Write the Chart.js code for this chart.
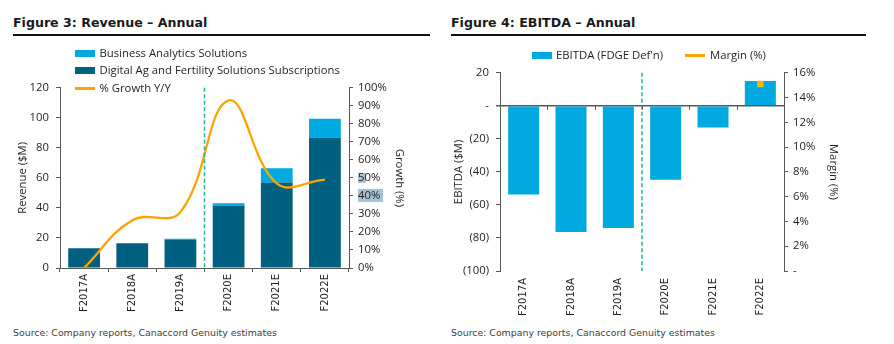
<!DOCTYPE html>
<html>
<head>
<meta charset="utf-8">
<script src="https://cdn.jsdelivr.net/npm/chart.js@4"></script>
<style>
  body { margin: 0; background: #fff; width: 894px; height: 344px; position: relative; overflow: hidden; font-family: 'DejaVu Sans', Verdana, sans-serif; }
  .title { position: absolute; top: 16px; font-weight: bold; font-size: 12.6px; color: #1a1a1a; line-height: 14px; white-space: nowrap; }
  .rule { position: absolute; top: 34px; height: 2px; background: #111; }
  .source { position: absolute; top: 327px; font-size: 9.4px; color: #404040; line-height: 12px; white-space: nowrap; }
  .lg { position: absolute; font-family: 'Open Sans', sans-serif; font-size: 11.3px; color: #1f1f1f; line-height: 14px; white-space: nowrap; }
  .sw { position: absolute; }
  canvas { position: absolute; }
</style>
</head>
<body>
<div class="title" style="left:13px">Figure 3: Revenue – Annual</div>
<div class="rule" style="left:13px;width:417px"></div>
<div class="title" style="left:451px">Figure 4: EBITDA – Annual</div>
<div class="rule" style="left:451px;width:415px"></div>

<canvas id="revChart" width="440" height="246" style="left:0;top:74px"></canvas>
<canvas id="ebitdaChart" width="440" height="261" style="left:447px;top:59px"></canvas>

<div class="source" style="left:13px">Source: Company reports, Canaccord Genuity estimates</div>
<div class="source" style="left:451px">Source: Company reports, Canaccord Genuity estimates</div>

<script>
// data
var categories = ['F2017A', 'F2018A', 'F2019A', 'F2020E', 'F2021E', 'F2022E'];
var digitalAg = [13.1, 16.4, 19.0, 41.5, 56.9, 86.9];
var businessAnalytics = [0, 0, 0.4, 1.6, 9.5, 12.4];
var growthPct = [0, 26.5, 31, 93, 47, 49];
var ebitda = [-53.7, -76.4, -74.0, -44.8, -13.2, 15.0];
var marginPct = [null, null, null, null, null, 15.1];

var C_LIGHT = '#00a9e0';
var C_DARK = '#00607f';
var C_ORANGE = '#ffa300';
var C_GOLD = '#f5b400';
var C_AXIS = '#595959';
var C_TEXT = '#1f1f1f';

var tickFont = { family: 'Open Sans', size: 11.3 };
var catFont = { family: 'DejaVu Sans', size: 10 };

Chart.defaults.color = C_TEXT;
Chart.defaults.animation = false;

// dashed line between actuals and estimates
var splitLine = {
  id: 'splitLine',
  afterDatasetsDraw(chart) {
    var ctx = chart.ctx, area = chart.chartArea, x = chart.scales.x;
    var xp = (x.getPixelForValue(2) + x.getPixelForValue(3)) / 2;
    ctx.save();
    ctx.strokeStyle = '#1fb39a';
    ctx.lineWidth = 1.5;
    ctx.setLineDash([4, 2.5]);
    ctx.beginPath();
    ctx.moveTo(xp, area.top);
    ctx.lineTo(xp, area.bottom);
    ctx.stroke();
    ctx.restore();
  }
};

// the two shaded labels on the growth axis
var tickShade = {
  id: 'tickShade',
  beforeDraw(chart) {
    var ctx = chart.ctx, s = chart.scales.y1;
    var x0 = s.left + 9;
    ctx.save();
    ctx.fillStyle = '#a7c2d6';
    var y50 = s.getPixelForValue(50);
    ctx.fillRect(x0, y50 - 5, 8, 10);
    var y40 = s.getPixelForValue(40);
    ctx.fillRect(x0, y40 - 7, 25, 13);
    ctx.restore();
  }
};

// small ticks hanging from the zero line
var zeroTicks = {
  id: 'zeroTicks',
  afterDraw(chart) {
    var ctx = chart.ctx, x = chart.scales.x, y = chart.scales.y;
    var y0 = y.getPixelForValue(0);
    ctx.save();
    ctx.strokeStyle = C_AXIS;
    ctx.lineWidth = 1;
    ctx.beginPath();
    for (var i = 1; i < categories.length; i++) {
      var xp = Math.round((x.getPixelForValue(i - 1) + x.getPixelForValue(i)) / 2) + 0.5;
      ctx.moveTo(xp, y0);
      ctx.lineTo(xp, y0 + 4);
    }
    ctx.stroke();
    ctx.restore();
  }
};

new Chart(document.getElementById('revChart'), {
  type: 'bar',
  data: {
    labels: categories,
    datasets: [
      { label: 'Digital Ag and Fertility Solutions Subscriptions', data: digitalAg, backgroundColor: C_DARK,
        barPercentage: 0.66, categoryPercentage: 1, order: 1 },
      { label: 'Business Analytics Solutions', data: businessAnalytics, backgroundColor: C_LIGHT,
        barPercentage: 0.66, categoryPercentage: 1, order: 1 },
      { type: 'line', label: '% Growth Y/Y', data: growthPct, yAxisID: 'y1', borderColor: C_ORANGE,
        borderWidth: 2.3, pointRadius: 0, tension: 0.4, fill: false, order: 0 }
    ]
  },
  options: {
    responsive: false,
    layout: { padding: { left: 12, right: 30, top: 3, bottom: 0 } },
    plugins: { legend: { display: false }, tooltip: { enabled: false } },
    scales: {
      x: {
        stacked: true,
        grid: { drawOnChartArea: false, tickLength: 4, color: C_AXIS },
        border: { color: C_AXIS },
        ticks: { font: catFont, maxRotation: 90, minRotation: 90, padding: 2, autoSkip: false },
        afterFit: function (s) { s.height = 52; }
      },
      y: {
        stacked: true, min: 0, max: 120,
        ticks: { stepSize: 20, font: tickFont, padding: 7 },
        grid: { drawOnChartArea: false, tickLength: 4, color: C_AXIS },
        border: { color: C_AXIS },
        title: { display: true, text: 'Revenue ($M)', font: tickFont },
        afterFit: function (s) { s.width = 48; }
      },
      y1: {
        position: 'right', min: 0, max: 100,
        ticks: { stepSize: 10, font: tickFont, padding: 5, callback: function (v) { return v + '%'; } },
        grid: { drawOnChartArea: false, tickLength: 4, color: C_AXIS },
        border: { color: C_AXIS },
        title: { display: true, text: 'Growth (%)', font: tickFont },
        afterFit: function (s) { s.width = 61; }
      }
    }
  },
  plugins: [splitLine, tickShade]
});

new Chart(document.getElementById('ebitdaChart'), {
  type: 'bar',
  data: {
    labels: categories,
    datasets: [
      { label: "EBITDA (FDGE Def'n)", data: ebitda, backgroundColor: C_LIGHT,
        barPercentage: 0.655, categoryPercentage: 1, order: 1 },
      { type: 'line', label: 'Margin (%)', data: marginPct, yAxisID: 'y1', borderColor: C_ORANGE,
        backgroundColor: C_GOLD, pointStyle: 'rect', pointRadius: 4.6, pointBorderWidth: 0,
        showLine: false, order: 0 }
    ]
  },
  options: {
    responsive: false,
    layout: { padding: { left: 1, right: 43, top: 3, bottom: 0 } },
    plugins: { legend: { display: false }, tooltip: { enabled: false } },
    scales: {
      x: {
        grid: { display: false, drawTicks: false },
        border: { display: false },
        ticks: { font: catFont, maxRotation: 90, minRotation: 90, padding: 7, autoSkip: false },
        afterFit: function (s) { s.height = 49; }
      },
      y: {
        min: -100, max: 20,
        ticks: { stepSize: 20, font: tickFont, padding: 7,
          callback: function (v) { return v === 0 ? '-' : (v < 0 ? '(' + (-v) + ')' : v); } },
        grid: {
          tickLength: 4, tickColor: C_AXIS,
          color: function (c) { return c.tick && c.tick.value === 0 ? C_AXIS : 'transparent'; },
          lineWidth: function (c) { return c.tick && c.tick.value === 0 ? 1.5 : 1; }
        },
        border: { color: C_AXIS },
        title: { display: true, text: 'EBITDA ($M)', font: tickFont },
        afterFit: function (s) { s.width = 52; }
      },
      y1: {
        position: 'right', min: 0, max: 16,
        ticks: { stepSize: 2, font: tickFont, padding: 5,
          callback: function (v) { return v === 0 ? '-' : v + '%'; } },
        grid: { drawOnChartArea: false, tickLength: 4, color: C_AXIS },
        border: { color: C_AXIS },
        title: { display: true, text: 'Margin (%)', font: tickFont },
        afterFit: function (s) { s.width = 60; }
      }
    }
  },
  plugins: [splitLine, zeroTicks]
});

// html legends
function addLegend(items) {
  items.forEach(function (it) {
    var sw = document.createElement('div');
    sw.className = 'sw';
    sw.style.left = it.sx + 'px';
    sw.style.width = '20px';
    if (it.line) {
      sw.style.top = (it.cy - 1) + 'px';
      sw.style.height = '2.5px';
    } else {
      sw.style.top = (it.cy - 3.5) + 'px';
      sw.style.height = '7px';
    }
    sw.style.background = it.color;
    document.body.appendChild(sw);
    var t = document.createElement('div');
    t.className = 'lg';
    t.style.left = it.tx + 'px';
    t.style.top = (it.cy - 7.5) + 'px';
    t.textContent = it.text;
    document.body.appendChild(t);
  });
}
addLegend([
  { text: 'Business Analytics Solutions', color: C_LIGHT, sx: 75, tx: 99.5, cy: 53 },
  { text: 'Digital Ag and Fertility Solutions Subscriptions', color: C_DARK, sx: 75, tx: 99.5, cy: 70.5 },
  { text: '% Growth Y/Y', color: C_ORANGE, line: true, sx: 75, tx: 99.5, cy: 88 },
  { text: "EBITDA (FDGE Def'n)", color: C_LIGHT, sx: 532, tx: 556, cy: 55 },
  { text: 'Margin (%)', color: C_ORANGE, line: true, sx: 685, tx: 710, cy: 55 }
]);
</script>
</body>
</html>
